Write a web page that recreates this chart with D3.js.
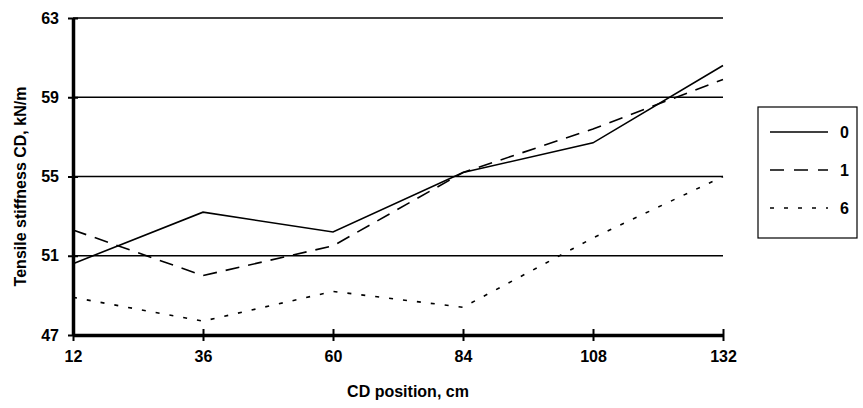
<!DOCTYPE html>
<html>
<head>
<meta charset="utf-8">
<script src="https://cdn.jsdelivr.net/npm/d3@7"></script>
<style>
  body { margin: 0; background: #fff; }
  text { font-family: "Liberation Sans", Arial, sans-serif; font-weight: bold; fill: #000; }
</style>
</head>
<body>
<svg id="chart" width="863" height="408"></svg>
<script>
// donnees
const positions = [12, 36, 60, 84, 108, 132];
const yTicks = [47, 51, 55, 59, 63];
const serie0 = [50.6, 53.2, 52.2, 55.2, 56.7, 60.6];
const serie1 = [52.3, 50.0, 51.5, 55.2, 57.4, 59.9];
const serie6 = [48.9, 47.7, 49.2, 48.4, 51.9, 55.0];
const legendLabels = ["0", "1", "6"];

const series = [
    { nom: legendLabels[0], valeurs: serie0, dash: null, dashLeg: null },
    { nom: legendLabels[1], valeurs: serie1, dash: "14,9", dashLeg: "14,10" },
    { nom: legendLabels[2], valeurs: serie6, dash: "4,10", dashLeg: "4,10" }
];

const svg = d3.select("#chart");
const mLeft = 73, mRight = 723, mTop = 18, mBottom = 335;

const x = d3.scaleLinear().domain([12, 132]).range([mLeft, mRight]);
const y = d3.scaleLinear().domain([47, 63]).range([mBottom, mTop]);

// grille horizontale
svg.append("g")
    .selectAll("line")
    .data(yTicks.slice(1))
    .enter()
    .append("line")
    .attr("x1", mLeft).attr("x2", mRight)
    .attr("y1", d => y(d)).attr("y2", d => y(d))
    .style("stroke", "#000")
    .style("stroke-width", 1.6);

// axe Y
const axeY = svg.append("g")
    .attr("transform", `translate(${mLeft},0)`)
    .call(d3.axisLeft(y).tickValues(yTicks).tickSize(0).tickPadding(14));
axeY.select(".domain").style("stroke-width", 3.5);
axeY.selectAll(".tick").append("line")
    .attr("x1", -5).attr("x2", 5)
    .style("stroke", "#000").style("stroke-width", 2);
axeY.selectAll("text").style("font-size", "16px").style("font-family", "Liberation Sans, Arial, sans-serif").style("font-weight", "bold");

// axe X
const axeX = svg.append("g")
    .attr("transform", `translate(0,${mBottom})`)
    .call(d3.axisBottom(x).tickValues(positions).tickSize(0).tickPadding(16));
axeX.select(".domain").style("stroke-width", 3.5);
axeX.selectAll(".tick").append("line")
    .attr("y1", -6).attr("y2", 6)
    .style("stroke", "#000").style("stroke-width", 2);
axeX.selectAll("text").style("font-size", "16px").style("font-family", "Liberation Sans, Arial, sans-serif").style("font-weight", "bold");

// courbes
const ligne = d3.line()
    .x((d, i) => x(positions[i]))
    .y(d => y(d));

svg.append("g")
    .selectAll("path")
    .data(series)
    .enter()
    .append("path")
    .attr("d", d => ligne(d.valeurs))
    .style("fill", "none")
    .style("stroke", "#000")
    .style("stroke-width", 1.6)
    .style("stroke-dasharray", d => d.dash);

// titres des axes
svg.append("text")
    .attr("x", 408)
    .attr("y", 397)
    .attr("text-anchor", "middle")
    .style("font-size", "16px")
    .text("CD position, cm");

svg.append("text")
    .attr("transform", `translate(26,${(mTop + mBottom) / 2 + 10}) rotate(-90)`)
    .attr("text-anchor", "middle")
    .style("font-size", "16px")
    .text("Tensile stiffness CD, kN/m");

// legende
const legende = svg.append("g");
legende.append("rect")
    .attr("x", 758).attr("y", 107)
    .attr("width", 99).attr("height", 131)
    .style("fill", "none")
    .style("stroke", "#000")
    .style("stroke-width", 1.2);

const items = legende.selectAll("g.item")
    .data(series)
    .enter()
    .append("g")
    .attr("transform", (d, i) => `translate(0,${132 + i * 38})`);

items.append("line")
    .attr("x1", 770).attr("x2", 828)
    .style("stroke", "#000")
    .style("stroke-width", 1.4)
    .style("stroke-dasharray", d => d.dashLeg);

items.append("text")
    .attr("x", 840)
    .attr("dy", "0.35em")
    .style("font-size", "16px")
    .text(d => d.nom);
</script>
</body>
</html>
